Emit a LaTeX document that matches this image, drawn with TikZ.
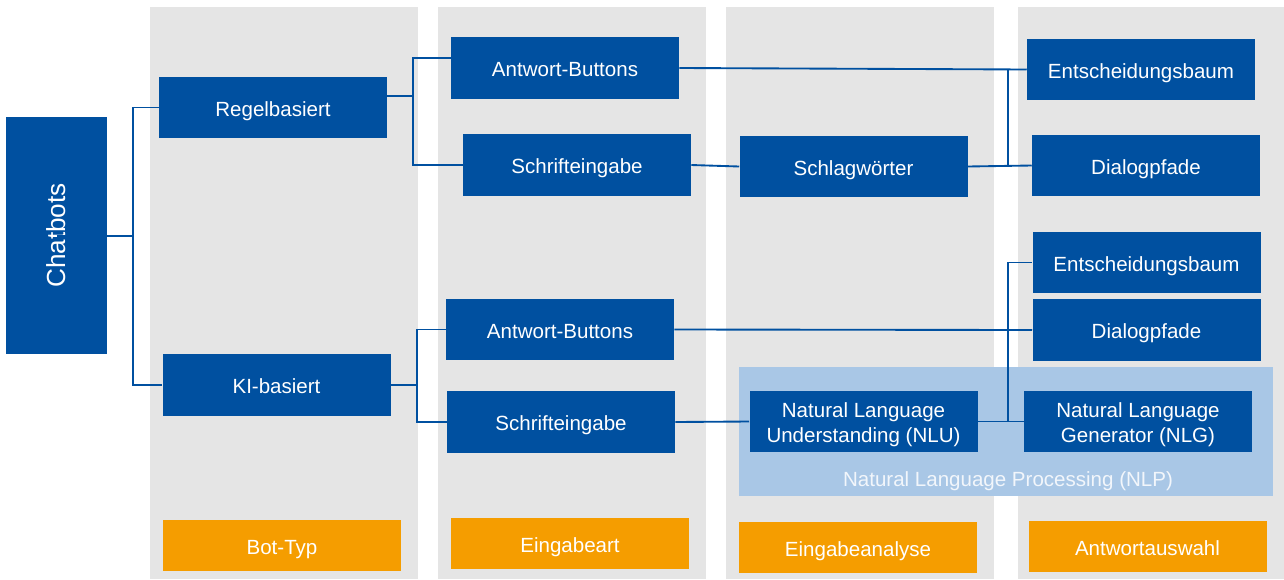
\documentclass[tikz,border=0pt]{standalone}
\usepackage{fontspec}
\setmainfont{Liberation Sans}
\usepackage{tikz}

\definecolor{dblue}{HTML}{0050A0}
\definecolor{colgray}{HTML}{E5E5E5}
\definecolor{nlpblue}{HTML}{A9C7E6}
\definecolor{orng}{HTML}{F59D00}
\definecolor{nlptxt}{HTML}{F2F6FB}

\begin{document}
\begin{tikzpicture}[x=0.75pt,y=-0.75pt,
        lbl/.style={font=\fontsize{15.4}{18.5}\selectfont,text height=14.8pt,text depth=2pt},
        box/.style={lbl,fill=dblue,text=white,inner sep=0pt,minimum width=171pt,minimum height=46pt,
            align=center},
        twoline/.style={text height=33.3pt},
        catbox/.style={lbl,fill=orng,text=white,inner sep=0pt,minimum width=178.5pt,minimum height=38.25pt},
        conn/.style={draw=dblue,line width=1.4pt}]

        \useasboundingbox (0,0) rectangle (1284,579);

        % Spalten
        \foreach \xa/\xb in {150/418,438/706,726/994,1018/1284}
            \fill[colgray] (\xa,7) rectangle (\xb,579);

        \fill[nlpblue] (739,367) rectangle (1273,496);
        \node[lbl,text=nlptxt] (nlp) at (1008,478) {Natural Language Processing (NLP)};

        \node[box,rotate=90,minimum width=177.75pt,minimum height=75.75pt,
            font=\fontsize{19.6}{22}\selectfont,text height=14pt,text depth=0pt] (chat) at (56.5,235.5) {Chatbots};

        \node[box] (regel) at (273,107.5) {Regelbasiert};
        \node[box] (ki) at (276.5,385) {KI-basiert};

        \node[box] (ab1) at (565,68) {Antwort-Buttons};
        \node[box] (se1) at (577,165) {Schrifteingabe};
        \node[box] (ab2) at (560,329.5) {Antwort-Buttons};
        \node[box] (se2) at (561,422) {Schrifteingabe};

        \node[box] (schlag) at (853.5,166.5) {Schlagwörter};
        \node[box,twoline] (nlu) at (863.5,421.5) {Natural Language\\Understanding (NLU)};

        \node[box] (eb1) at (1141,69.5) {Entscheidungsbaum};
        \node[box] (dp1) at (1146,165.5) {Dialogpfade};
        \node[box] (eb2) at (1146.5,262.5) {Entscheidungsbaum};
        \node[box] (dp2) at (1146.5,330) {Dialogpfade};
        \node[box,twoline] (nlg) at (1138,421.5) {Natural Language\\Generator (NLG)};

        \node[catbox] (bottyp) at (282,545.5) {Bot-Typ};
        \node[catbox] (eingabeart) at (570,543.5) {Eingabeart};
        \node[catbox] (analyse) at (858,547.5) {Eingabeanalyse};
        \node[catbox] (auswahl) at (1147.5,546.5) {Antwortauswahl};

        % Verbindungen
        \coordinate (j1) at (133,236);
        \draw[conn] (chat.east |- j1) -- (j1);
        \draw[conn] (regel.west) -| (j1) |- (ki.west);

        \coordinate (j2) at (413,96);
        \coordinate (j2a) at (413,58);
        \coordinate (j2b) at (413,165);
        \draw[conn] (regel.east |- j2) -- (j2);
        \draw[conn] (ab1.west |- j2a) -- (j2a) -- (j2b) -- (se1.west);

        \coordinate (j5) at (417,385);
        \draw[conn] (ki.east) -- (j5);
        \draw[conn] (ab2.west) -| (j5) |- (se2.west);

        \draw[conn] (ab1.east) -- (eb1.west);
        \draw[conn] (se1.east) -- (schlag.west);
        \draw[conn] (schlag.east) -- (dp1.west);
        \coordinate (j3) at (1008,69.4);
        \coordinate (j4) at (1008,166);
        \draw[conn] (j3) -- (j4);

        \draw[conn] (ab2.east) -- (dp2.west);
        \draw[conn] (se2.east) -- (nlu.west);
        \draw[conn] (nlu.east) -- (nlg.west);
        \coordinate (j6) at (1008,421.5);
        \draw[conn] (j6) |- (eb2.west);
    \end{tikzpicture}
\end{document}
